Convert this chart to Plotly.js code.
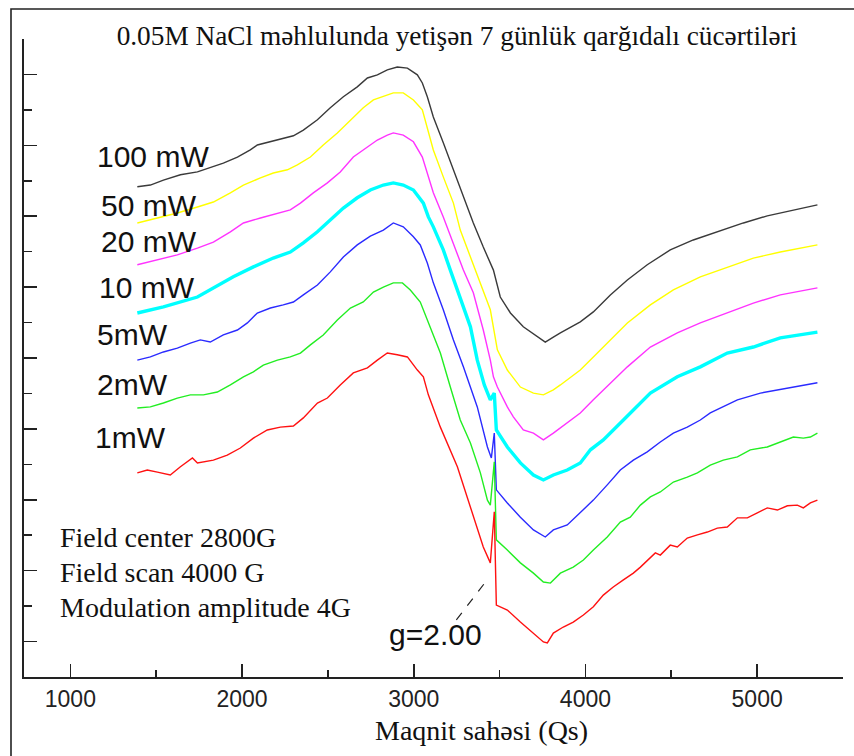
<!DOCTYPE html>
<html>
<head>
<meta charset="utf-8">
<script src="https://cdn.plot.ly/plotly-3.0.1.min.js"></script>
<style>html,body{margin:0;padding:0;background:#fff;}#chart{width:854px;height:756px;}</style>
</head>
<body>
<div id="chart"></div>
<script>
// ---- data (magnetic field in G, signal in arbitrary offset units) ----
const powerLabels = ['100 mW', '50 mW', '20 mW', '10 mW', '5mW', '2mW', '1mW'];

const field100 = [1390,1466,1542,1641,1740,1815,1891,1973,2048,2089,2165,2240,2299,2357,2439,2514,2590,2671,2730,2788,2846,2904,2963,3021,3050,3079,3114,3172,3231,3289,3347,3405,3464,3504,3563,3638,3720,3766,3813,3854,3970,4046,4145,4244,4360,4494,4628,4768,4920,5059,5211,5351];
const sig100 = [13.83,13.88,14.02,14.17,14.25,14.37,14.50,14.67,14.87,15.01,15.10,15.18,15.27,15.43,15.72,16.06,16.37,16.65,16.90,16.99,17.13,17.21,17.18,16.99,16.76,16.37,15.80,15.07,14.31,13.54,12.81,12.13,11.48,10.72,10.27,9.88,9.59,9.45,9.59,9.71,10.02,10.30,10.78,11.20,11.63,12.05,12.33,12.56,12.81,13.01,13.18,13.32];

const field50 = [1390,1507,1623,1740,1833,1932,2008,2107,2182,2264,2322,2398,2473,2555,2631,2706,2765,2823,2881,2939,2998,3050,3079,3114,3172,3231,3271,3330,3388,3446,3487,3545,3621,3697,3755,3813,3854,3970,4046,4145,4244,4378,4512,4669,4826,4978,5135,5351];
const sig50 = [12.81,12.95,13.09,13.26,13.40,13.66,13.88,14.08,14.22,14.31,14.45,14.67,15.01,15.35,15.72,16.06,16.28,16.37,16.48,16.48,16.28,16.00,15.52,14.87,14.11,13.37,12.61,11.85,11.12,10.36,9.23,8.66,8.18,8.01,7.96,8.10,8.24,8.66,9.03,9.51,9.99,10.50,10.92,11.29,11.57,11.82,11.99,12.19];

const field20 = [1390,1507,1623,1740,1833,1932,2008,2107,2206,2281,2340,2415,2497,2572,2648,2730,2788,2846,2881,2939,2998,3050,3079,3114,3172,3231,3289,3347,3405,3446,3464,3487,3545,3580,3638,3697,3755,3813,3894,3970,4046,4145,4244,4378,4535,4669,4826,4978,5135,5351];
const sig20 = [11.63,11.77,11.91,12.10,12.27,12.56,12.81,12.95,13.09,13.18,13.37,13.66,13.94,14.25,14.67,14.95,15.15,15.29,15.35,15.29,15.10,14.67,14.22,13.66,12.98,12.25,11.48,10.84,9.79,8.94,8.47,8.18,7.62,7.34,6.97,6.88,6.69,6.88,7.17,7.45,7.82,8.30,8.75,9.31,9.71,9.99,10.27,10.55,10.78,10.98];

const field10 = [1390,1542,1740,1833,1949,2066,2182,2281,2357,2439,2514,2590,2671,2747,2823,2881,2939,2998,3056,3085,3114,3172,3213,3271,3330,3370,3411,3446,3469,3481,3545,3621,3697,3755,3813,3894,3970,4029,4104,4221,4378,4535,4669,4826,4978,5135,5351];
const sig10 = [10.27,10.44,10.72,10.98,11.29,11.57,11.82,11.99,12.25,12.56,12.90,13.23,13.52,13.74,13.88,13.94,13.88,13.74,13.37,12.98,12.70,12.05,11.48,10.72,9.88,8.94,8.24,7.82,8.01,6.97,6.49,6.04,5.70,5.56,5.70,5.84,6.04,6.41,6.69,7.25,8.01,8.47,8.75,9.14,9.31,9.57,9.73];

const field5 = [1390,1466,1542,1623,1699,1757,1815,1891,1973,2031,2089,2165,2240,2299,2357,2439,2514,2590,2671,2747,2823,2881,2939,2998,3038,3079,3114,3172,3231,3289,3370,3429,3452,3469,3481,3545,3621,3697,3766,3813,3894,3970,4046,4127,4203,4279,4360,4436,4512,4593,4669,4727,4885,5019,5176,5351];
const sig5 = [8.94,9.03,9.17,9.28,9.42,9.51,9.45,9.65,9.79,9.99,10.27,10.41,10.50,10.58,10.78,11.06,11.43,11.85,12.19,12.44,12.61,12.81,12.70,12.42,12.19,11.68,11.12,10.36,9.51,8.75,7.62,6.49,6.18,6.88,5.28,4.91,4.51,4.15,3.95,4.15,4.29,4.63,4.99,5.42,5.84,6.12,6.35,6.63,6.88,7.05,7.25,7.45,7.82,8.01,8.15,8.30];

const field2 = [1390,1466,1542,1623,1699,1775,1856,1932,2008,2066,2124,2206,2281,2340,2398,2473,2555,2631,2706,2765,2823,2881,2934,2980,3038,3097,3155,3213,3271,3330,3388,3429,3446,3469,3481,3545,3621,3697,3755,3796,3854,3929,3988,4046,4127,4203,4261,4320,4378,4436,4512,4593,4652,4727,4803,4885,4960,5059,5135,5211,5269,5310,5351];
const sig2 = [7.59,7.62,7.73,7.87,7.96,7.96,8.04,8.24,8.47,8.61,8.80,8.94,9.03,9.14,9.37,9.65,10.07,10.41,10.58,10.86,11.00,11.12,11.12,10.92,10.58,9.88,9.14,8.18,7.25,6.60,5.76,4.99,4.85,6.07,3.87,3.58,3.22,2.93,2.68,2.65,2.93,3.10,3.30,3.58,3.95,4.37,4.51,4.85,5.08,5.22,5.50,5.64,5.76,5.98,6.12,6.21,6.41,6.49,6.63,6.77,6.74,6.77,6.88];

const field1 = [1390,1448,1507,1582,1641,1711,1740,1833,1914,1990,2066,2147,2223,2299,2357,2439,2497,2572,2648,2730,2788,2846,2904,2963,3021,3056,3085,3155,3254,3330,3405,3446,3469,3481,3545,3621,3697,3755,3778,3813,3871,3929,3988,4046,4104,4162,4221,4279,4320,4378,4407,4436,4494,4535,4593,4652,4710,4768,4826,4885,4943,5001,5059,5118,5176,5234,5269,5310,5351];
const sig1 = [5.76,5.84,5.78,5.70,5.93,6.18,6.04,6.12,6.26,6.46,6.74,6.97,7.05,7.08,7.31,7.73,7.87,8.24,8.58,8.72,8.94,9.14,9.09,9.03,8.66,8.47,7.96,7.05,5.93,4.80,3.67,3.22,4.66,2.03,1.89,1.55,1.24,0.99,0.96,1.24,1.41,1.55,1.75,1.98,2.31,2.54,2.74,2.93,3.10,3.36,3.50,3.44,3.72,3.67,3.92,4.01,4.09,4.20,4.23,4.49,4.49,4.63,4.77,4.71,4.83,4.85,4.77,4.91,4.99];

const xTickVals = [1000, 2000, 3000, 4000, 5000];

// ---- styles ----
const seriesStyle = [
  {x: field100, y: sig100, color: '#3a3a3a', width: 1.4},
  {x: field50,  y: sig50,  color: '#ffff00', width: 1.4},
  {x: field20,  y: sig20,  color: '#ff33ff', width: 1.4},
  {x: field10,  y: sig10,  color: '#00ffff', width: 3.4},
  {x: field5,   y: sig5,   color: '#2a2aff', width: 1.4},
  {x: field2,   y: sig2,   color: '#22ee22', width: 1.4},
  {x: field1,   y: sig1,   color: '#ff1111', width: 1.4}
];

const traces = seriesStyle.map((s, i) => ({
  type: 'scatter', mode: 'lines', name: powerLabels[i],
  x: s.x, y: s.y,
  line: {color: s.color, width: s.width},
  hoverinfo: 'skip'
}));

// plot area: x 24..843 px, y 39..677 px
const L = 24, R = 843, T = 39, B = 677;
const px = v => (v - L) / (R - L);
const py = v => (B - v) / (B - T);

const labelY = [157, 205, 241, 287, 334, 384, 437];
const labelX = [97, 101, 101, 99, 97, 97, 95];
const annotations = powerLabels.map((t, i) => ({
  text: t, xref: 'paper', yref: 'paper', x: px(labelX[i] - 2), y: py(labelY[i]),
  xanchor: 'left', yanchor: 'middle', showarrow: false,
  font: {family: 'Liberation Sans, Arial, sans-serif', size: 30, color: '#111'}
}));

const infoLines = ['Field center 2800G', 'Field scan 4000 G', 'Modulation amplitude 4G'];
const infoY = [537, 572, 607];
infoLines.forEach((t, i) => annotations.push({
  text: t, xref: 'paper', yref: 'paper', x: px(58), y: py(infoY[i]),
  xanchor: 'left', yanchor: 'middle', showarrow: false,
  font: {family: 'Liberation Serif, Times New Roman, serif', size: 28, color: '#111'}
}));

annotations.push({
  text: 'g=2.00', xref: 'paper', yref: 'paper', x: px(387), y: py(634),
  xanchor: 'left', yanchor: 'middle', showarrow: false,
  font: {family: 'Liberation Sans, Arial, sans-serif', size: 30, color: '#111'}
});

annotations.push({
  text: 'Maqnit sahəsi (Qs)', xref: 'paper', yref: 'paper', x: px(481), y: py(730),
  xanchor: 'center', yanchor: 'middle', showarrow: false,
  font: {family: 'Liberation Serif, Times New Roman, serif', size: 28, color: '#111'}
});

const layout = {
  width: 854, height: 756,
  margin: {l: L, r: 854 - R, t: T, b: 756 - B, pad: 0},
  paper_bgcolor: '#fff', plot_bgcolor: '#fff',
  showlegend: false,
  title: {
    text: '0.05M NaCl məhlulunda yetişən 7 günlük qarğıdalı cücərtiləri',
    x: 457 / 854, xanchor: 'center', y: 1 - 35 / 756, yanchor: 'middle',
    font: {family: 'Liberation Serif, Times New Roman, serif', size: 27.3, color: '#111'}
  },
  xaxis: {
    range: [730, 5500], showgrid: false, zeroline: false,
    showline: true, linecolor: '#222', linewidth: 1.6,
    tickmode: 'array', tickvals: xTickVals,
    ticks: 'inside', ticklen: 13, tickwidth: 1.6, tickcolor: '#222',
    minor: {tickmode: 'linear', tick0: 500, dtick: 1000, ticks: 'inside', ticklen: 7, tickwidth: 1.6, tickcolor: '#222', showgrid: false},
    tickfont: {family: 'Liberation Sans, Arial, sans-serif', size: 23, color: '#222'},
    ticklabelstandoff: 1
  },
  yaxis: {
    range: [0, 18], showgrid: false, zeroline: false,
    showline: true, linecolor: '#222', linewidth: 1.6,
    tickmode: 'linear', tick0: 1, dtick: 2,
    ticks: 'inside', ticklen: 13, tickwidth: 1.6, tickcolor: '#222',
    minor: {tickmode: 'linear', tick0: 0, dtick: 2, ticks: 'inside', ticklen: 8, tickwidth: 1.6, tickcolor: '#222', showgrid: false},
    showticklabels: false
  },
  shapes: [
    {type: 'rect', xref: 'paper', yref: 'paper', x0: px(11), x1: px(900), y0: py(9), y1: py(800),
     line: {color: '#222', width: 1.6}, fillcolor: 'rgba(0,0,0,0)', layer: 'below'},
    {type: 'line', xref: 'x', yref: 'y', x0: 3248, y0: 1.61, x1: 3440, y1: 2.82,
     line: {color: '#222', width: 1.2, dash: 'dash'}}
  ],
  annotations: annotations
};

Plotly.newPlot('chart', traces, layout, {staticPlot: true, displayModeBar: false});
</script>
</body>
</html>
